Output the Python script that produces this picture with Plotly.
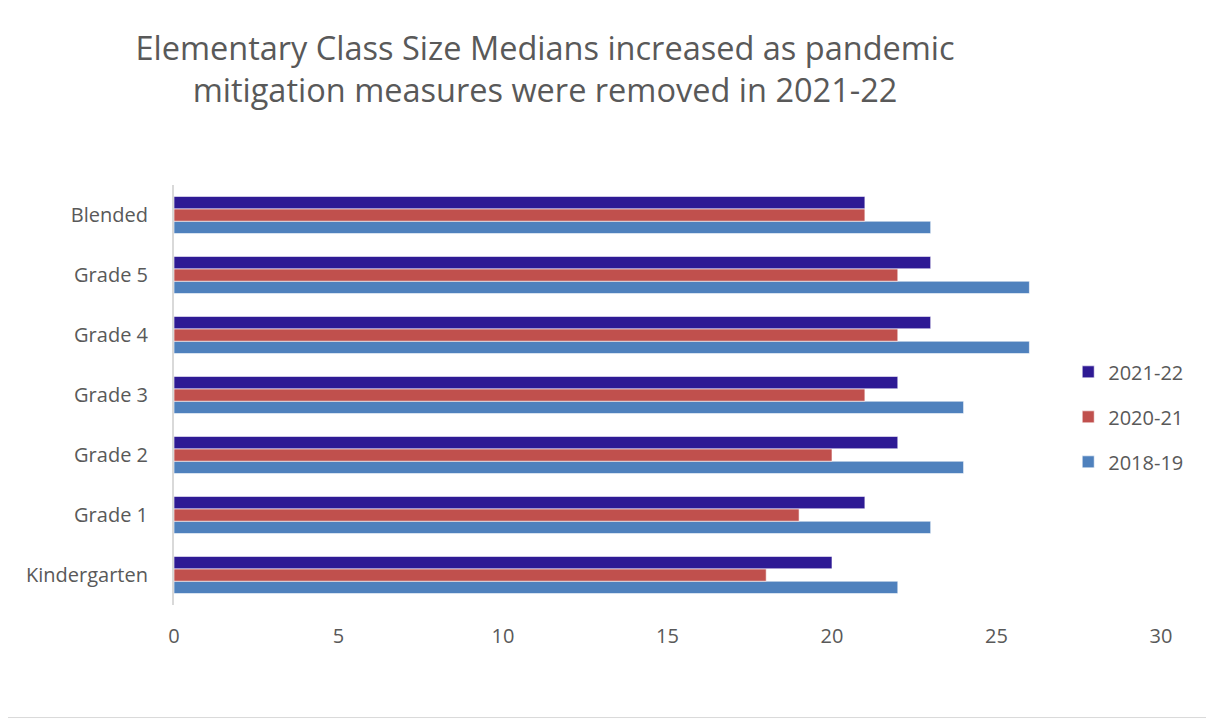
import plotly.graph_objects as go

categories = ["Kindergarten", "Grade 1", "Grade 2", "Grade 3", "Grade 4", "Grade 5", "Blended"]
v_2018_19 = [22, 23, 24, 24, 26, 26, 23]
v_2020_21 = [18, 19, 20, 21, 22, 22, 21]
v_2021_22 = [20, 21, 22, 22, 23, 23, 21]

series = [
    ("2018-19", v_2018_19, "#4F81BD", 3),
    ("2020-21", v_2020_21, "#C0504D", 2),
    ("2021-22", v_2021_22, "#2E1A94", 1),
]

fig = go.Figure()
for name, vals, color, rank in series:
    fig.add_trace(go.Bar(
        y=categories, x=vals, name=name, orientation="h",
        marker=dict(color=color, line=dict(color="rgba(255,255,255,0.6)", width=1)),
        legendgroup=name, legendrank=rank,
    ))

fig.update_layout(
    width=1206, height=711,
    barmode="group", bargap=0.38, bargroupgap=0,
    paper_bgcolor="white", plot_bgcolor="white",
    font=dict(family="Open Sans, Carlito, sans-serif", color="#595959", size=20),
    margin=dict(l=166, r=53, t=177, b=114),
    title=dict(
        text="Elementary Class Size Medians increased as pandemic<br>mitigation measures were removed in 2021-22",
        x=(545 - 8) / 1206, xanchor="center", xref="container",
        y=1 - 52 / 711, yanchor="top", yref="container",
        font=dict(size=32.5, color="#595959"),
    ),
    xaxis=dict(range=[0, 30], dtick=5, showgrid=False, zeroline=False, showline=False,
               ticks="", ticklabelstandoff=17, tickfont=dict(size=20, color="#595959")),
    yaxis=dict(showgrid=False, zeroline=False, showline=True, linecolor="#D9D9D9", linewidth=2,
               ticks="", ticklabelstandoff=20, tickfont=dict(size=20, color="#595959")),
    legend=dict(x=0.906, y=0.448, xanchor="left", yanchor="middle",
                traceorder="grouped", tracegroupgap=16,
                font=dict(size=20, color="#595959"), bgcolor="rgba(0,0,0,0)"),
    showlegend=True,
)

fig.add_shape(type="rect", xref="paper", yref="paper",
              x0=-0.1748, x1=1.0522, y0=-0.268, y1=1.437,
              line=dict(color="#D9D9D9", width=1), fillcolor="rgba(0,0,0,0)", layer="below")

fig.write_html("out.html")
